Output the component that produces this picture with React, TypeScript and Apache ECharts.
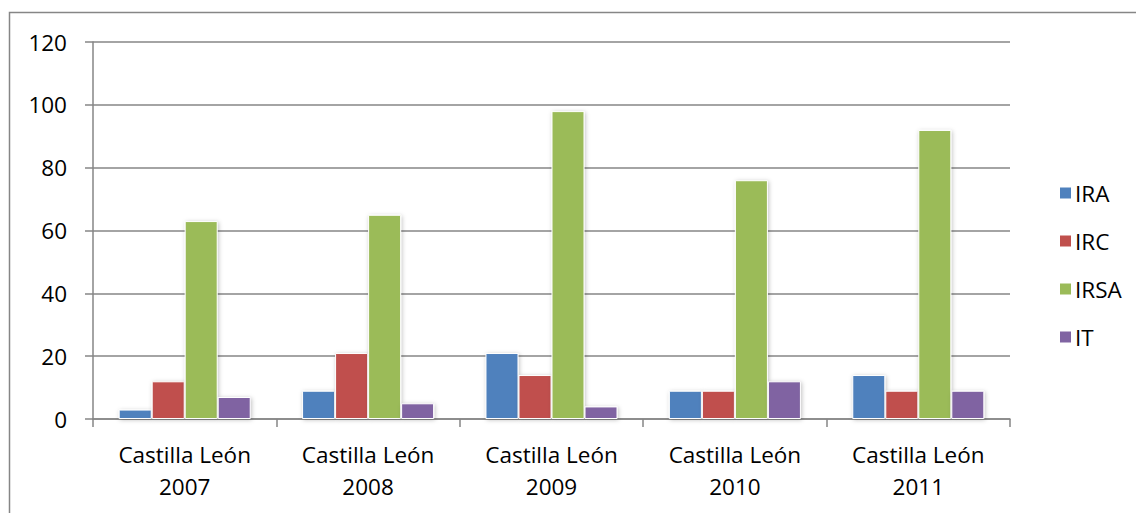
import React, { useEffect, useRef } from "react";
import * as echarts from "echarts";

const categories = [
  "Castilla León\n2007",
  "Castilla León\n2008",
  "Castilla León\n2009",
  "Castilla León\n2010",
  "Castilla León\n2011",
];
const seriesNames = ["IRA", "IRC", "IRSA", "IT"];
const IRA = [3, 9, 21, 9, 14];
const IRC = [12, 21, 14, 9, 9];
const IRSA = [63, 65, 98, 76, 92];
const IT = [7, 5, 4, 12, 9];
const yTicks = [0, 20, 40, 60, 80, 100, 120];
const colors = ["#4F81BD", "#C0504D", "#9BBB59", "#8064A2"];

const FONT = "'Open Sans', sans-serif";
const FS = 22.5;

export default function App() {
  const ref = useRef<HTMLDivElement>(null);
  useEffect(() => {
    if (!ref.current) return;
    const chart = echarts.init(ref.current, undefined, { renderer: "svg" });
    const data = [IRA, IRC, IRSA, IT];
    chart.setOption({
      animation: false,
      backgroundColor: "#ffffff",
      color: colors,
      textStyle: { fontFamily: FONT },
      graphic: [
        {
          type: "rect",
          shape: { x: 9.5, y: 12.5, width: 1200, height: 600 },
          style: { fill: "none", stroke: "#868686", lineWidth: 1.5 },
          silent: true,
          z: -10,
        },
      ],
      legend: {
        orient: "vertical",
        left: 1053,
        top: 176,
        itemWidth: 13,
        itemHeight: 13,
        itemGap: 24,
        icon: "rect",
        data: seriesNames,
        textStyle: { fontSize: FS, lineHeight: 24, color: "#000", fontFamily: FONT, padding: [0, 0, 0, -2] },
      },
      grid: { left: 93, right: 126, top: 42, bottom: 94 },
      xAxis: {
        type: "category",
        data: categories,
        axisLine: { lineStyle: { color: "#868686", width: 1.5 } },
        axisTick: { show: true, length: 8, alignWithLabel: false, lineStyle: { color: "#868686", width: 1.5 } },
        axisLabel: {
          color: "#000",
          fontSize: FS,
          fontFamily: FONT,
          margin: 19,
          lineHeight: 32,
          interval: 0,
        },
      },
      yAxis: {
        type: "value",
        min: yTicks[0],
        max: yTicks[yTicks.length - 1],
        interval: 20,
        axisLine: { show: true, lineStyle: { color: "#868686", width: 1.5 } },
        axisTick: { show: true, length: 8, lineStyle: { color: "#868686", width: 1.5 } },
        splitLine: { show: true, lineStyle: { color: "#868686", width: 1.5 } },
        axisLabel: { color: "#000", fontSize: FS, fontFamily: FONT, margin: 26 },
      },
      series: seriesNames.map((name, i) => ({
        name,
        type: "bar",
        data: data[i],
        barGap: "0%",
        barCategoryGap: "28%",
        itemStyle: {
          color: colors[i],
          borderColor: "#ffffff",
          borderWidth: 1,
          shadowColor: "rgba(0,0,0,0.25)",
          shadowBlur: 4,
          shadowOffsetX: 1,
          shadowOffsetY: 1,
        },
      })),
    });
    return () => chart.dispose();
  }, []);
  return (
    <div
      ref={ref}
      style={{ position: "absolute", left: 0, top: 0, width: 1136, height: 513 }}
    />
  );
}
